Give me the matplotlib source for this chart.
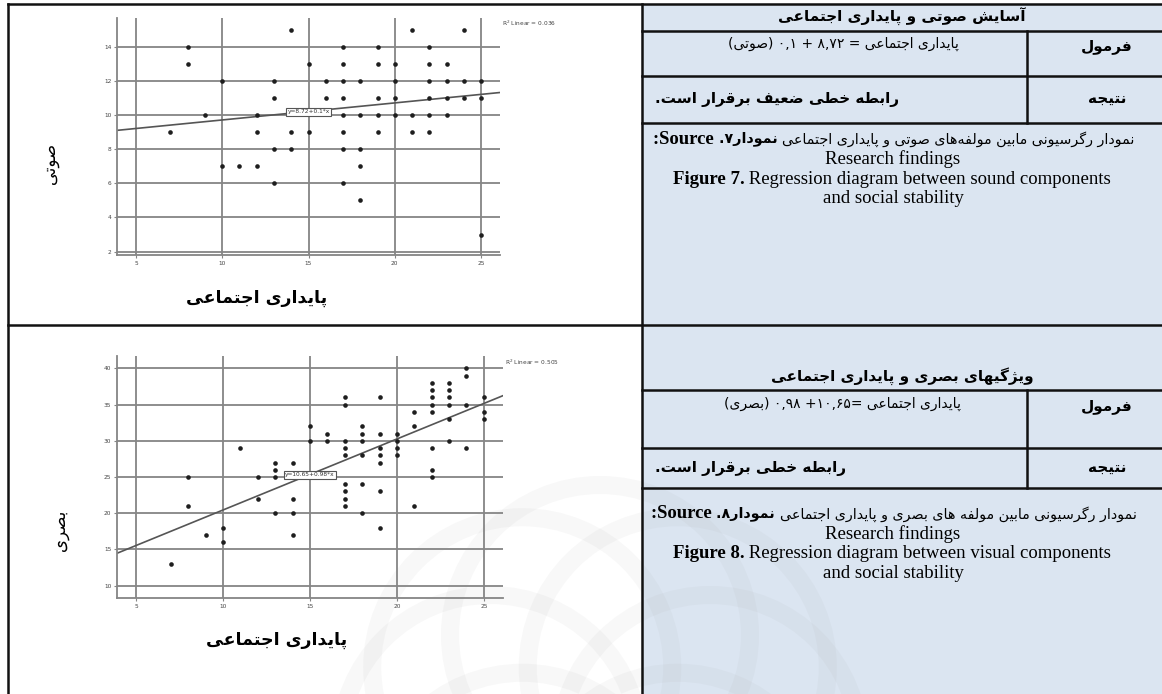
import matplotlib; matplotlib.use('Agg')
import matplotlib.pyplot as plt
from matplotlib.patches import Rectangle, Circle
import numpy as np

# ---------------------------------------------------------------------------
# data
# ---------------------------------------------------------------------------
sound_x = [7, 8, 8, 9, 10, 10, 11, 12, 12, 12, 13, 13, 13, 13, 14, 14, 14, 15, 15,
           16, 16, 17, 17, 17, 17, 17, 17, 17, 17, 18, 18, 18, 18, 18,
           19, 19, 19, 19, 19, 20, 20, 20, 20, 21, 21, 21,
           22, 22, 22, 22, 22, 22, 23, 23, 23, 23, 24, 24, 24, 25, 25, 25]
sound_y = [9, 14, 13, 10, 12, 7, 7, 10, 9, 7, 12, 11, 8, 6, 15, 9, 8, 13, 9,
           12, 11, 14, 13, 12, 11, 10, 9, 8, 6, 12, 10, 8, 7, 5,
           14, 13, 11, 10, 9, 13, 12, 11, 10, 15, 10, 9,
           14, 13, 12, 11, 10, 9, 13, 12, 11, 10, 15, 12, 11, 12, 11, 3]

visual_x = [7, 8, 8, 9, 10, 10, 11, 12, 12, 13, 13, 13, 13, 14, 14, 14, 14, 15, 15,
            16, 16, 17, 17, 17, 17, 17, 17, 17, 17, 17, 18, 18, 18, 18, 18, 18,
            19, 19, 19, 19, 19, 19, 19, 20, 20, 20, 20, 21, 21, 21,
            22, 22, 22, 22, 22, 22, 22, 22, 23, 23, 23, 23, 23, 23,
            24, 24, 24, 24, 25, 25, 25]
visual_y = [13, 25, 21, 17, 18, 16, 29, 25, 22, 27, 26, 25, 20, 27, 22, 20, 17, 32, 30,
            31, 30, 36, 35, 30, 29, 28, 24, 23, 22, 21, 32, 31, 30, 28, 24, 20,
            36, 31, 29, 28, 27, 23, 18, 31, 30, 29, 28, 34, 32, 21,
            38, 37, 36, 35, 34, 29, 26, 25, 38, 37, 36, 35, 33, 30,
            40, 39, 35, 29, 36, 34, 33]

sound_fit = (8.72, 0.1)      # intercept, slope
visual_fit = (10.65, 0.98)
sound_r2 = 'R$^2$ Linear = 0.036'
visual_r2 = 'R$^2$ Linear = 0.505'
sound_eq = 'y=8.72+0.1*x'
visual_eq = 'y=10.65+0.98*x'

x_ticks = [5, 10, 15, 20, 25]
sound_yticks = [2, 4, 6, 8, 10, 12, 14]
visual_yticks = [10, 15, 20, 25, 30, 35, 40]

# ---------------------------------------------------------------------------
# minimal Persian shaping (matplotlib does no contextual shaping / bidi)
# ---------------------------------------------------------------------------
FORMS = {
    'ا': ('\uFE8D', '\uFE8E', None, None), 'آ': ('\uFE81', '\uFE82', None, None),
    'ب': ('\uFE8F', '\uFE90', '\uFE91', '\uFE92'), 'پ': ('\uFB56', '\uFB57', '\uFB58', '\uFB59'),
    'ت': ('\uFE95', '\uFE96', '\uFE97', '\uFE98'), 'ج': ('\uFE9D', '\uFE9E', '\uFE9F', '\uFEA0'),
    'خ': ('\uFEA5', '\uFEA6', '\uFEA7', '\uFEA8'), 'د': ('\uFEA9', '\uFEAA', None, None),
    'ر': ('\uFEAD', '\uFEAE', None, None), 'ز': ('\uFEAF', '\uFEB0', None, None),
    'ژ': ('\uFB8A', '\uFB8B', None, None), 'س': ('\uFEB1', '\uFEB2', '\uFEB3', '\uFEB4'),
    'ش': ('\uFEB5', '\uFEB6', '\uFEB7', '\uFEB8'), 'ص': ('\uFEB9', '\uFEBA', '\uFEBB', '\uFEBC'),
    'ض': ('\uFEBD', '\uFEBE', '\uFEBF', '\uFEC0'), 'ط': ('\uFEC1', '\uFEC2', '\uFEC3', '\uFEC4'),
    'ع': ('\uFEC9', '\uFECA', '\uFECB', '\uFECC'), 'ف': ('\uFED1', '\uFED2', '\uFED3', '\uFED4'),
    'ق': ('\uFED5', '\uFED6', '\uFED7', '\uFED8'), 'ک': ('\uFB8E', '\uFB8F', '\uFB90', '\uFB91'),
    'گ': ('\uFB92', '\uFB93', '\uFB94', '\uFB95'), 'ل': ('\uFEDD', '\uFEDE', '\uFEDF', '\uFEE0'),
    'م': ('\uFEE1', '\uFEE2', '\uFEE3', '\uFEE4'), 'ن': ('\uFEE5', '\uFEE6', '\uFEE7', '\uFEE8'),
    'و': ('\uFEED', '\uFEEE', None, None), 'ه': ('\uFEE9', '\uFEEA', '\uFEEB', '\uFEEC'),
    'ی': ('\uFBFC', '\uFBFD', '\uFBFE', '\uFBFF'),
}


def fa(s):
    """Shape a logical Persian string and return it in visual (LTR) order."""
    out = []
    for i, c in enumerate(s):
        if c not in FORMS:
            if c != '\u200c':
                out.append(c)
            continue
        prev = s[i - 1] if i > 0 else ''
        nxt = s[i + 1] if i + 1 < len(s) else ''
        jp = prev in FORMS and FORMS[prev][2] is not None
        jn = FORMS[c][2] is not None and nxt in FORMS
        iso, fin, ini, med = FORMS[c]
        out.append(med if (jp and jn) else fin if jp else ini if jn else iso)
    return ''.join(reversed(out))


W, H = 1162, 694
fig = plt.figure(figsize=(W / 100, H / 100), dpi=100)
bg = fig.add_axes([0, 0, 1, 1])
bg.set_xlim(0, W)
bg.set_ylim(H, 0)
bg.axis('off')
R = fig.canvas.get_renderer()

FA = 'DejaVu Sans'
SERIF = 'Liberation Serif'


def run(x, y, pieces, ha='center'):
    """Lay out (text, kwargs) pieces left-to-right in pixel coords."""
    ts = [bg.text(0, y, t, va='center', ha='left', zorder=5, **kw) for t, kw in pieces]
    ws = [t.get_window_extent(R).width for t in ts]
    x0 = x - sum(ws) / 2 if ha == 'center' else (x - sum(ws) if ha == 'right' else x)
    for t, w in zip(ts, ws):
        t.set_x(x0)
        x0 += w


# right column shading
bg.add_patch(Rectangle((642, 4), W - 642, H - 4, color='#dbe5f1', zorder=0))

# faint journal watermark (rosette of arcs) near the bottom
for ang in np.arange(0, 360, 45):
    cx = 600 + 110 * np.cos(np.radians(ang))
    cy = 745 + 110 * np.sin(np.radians(ang))
    bg.add_patch(Circle((cx, cy), 150, fill=False, ec='#a0a0a0', lw=13,
                        alpha=0.07, zorder=0.5))

# table rules
lk = dict(color='#111111', lw=1.8, zorder=3)
bg.plot([8, 8], [4, H], **lk)
bg.plot([8, W], [4, 4], **lk)
bg.plot([8, W], [325, 325], **lk)
bg.plot([642, 642], [4, H], **lk)
for yy in (31, 76, 123, 390, 448, 488):
    bg.plot([642, W], [yy, yy], **lk)
bg.plot([1027, 1027], [31, 123], **lk)
bg.plot([1027, 1027], [390, 488], **lk)


# ---------------------------------------------------------------------------
# scatter panels
# ---------------------------------------------------------------------------
def panel(box, xs, ys, fit, yticks, ylim, eq, eq_y):
    l, t, r, b = box
    ax = fig.add_axes([l / W, 1 - b / H, (r - l) / W, (b - t) / H])
    ax.patch.set_alpha(0)
    ax.set_xlim(3.9, 26.1)
    ax.set_ylim(*ylim)
    ax.set_xticks(x_ticks)
    ax.set_yticks(yticks)
    ax.grid(True, color='#858585', lw=1.3)
    ax.set_axisbelow(True)
    for s in ('top', 'right'):
        ax.spines[s].set_visible(False)
    for s in ('left', 'bottom'):
        ax.spines[s].set_color('#858585')
        ax.spines[s].set_linewidth(1.3)
    ax.tick_params(length=2, width=0.8, color='#858585', labelsize=4.2,
                   labelcolor='#444444', pad=2)
    ax.scatter(xs, ys, s=11, color='#1e1e1e', zorder=3, linewidths=0)
    a, k = fit
    xl = list(ax.get_xlim())
    ax.plot(xl, [a + k * v for v in xl], color='#555555', lw=1.2, zorder=2)
    ax.text(15, eq_y, eq, fontsize=4.2, ha='center', va='center', color='#333333',
            zorder=4, bbox=dict(boxstyle='square,pad=0.25', fc='white', ec='#555555', lw=0.8))
    return ax


panel((117, 18, 500, 255), sound_x, sound_y, sound_fit, sound_yticks, (1.8, 15.7),
      sound_eq, 10.2)
panel((117, 356, 503, 598), visual_x, visual_y, visual_fit, visual_yticks, (8.3, 41.7),
      visual_eq, 25.3)

bg.text(502, 23, sound_r2, fontsize=4.2, color='#444444', va='center')
bg.text(505, 362, visual_r2, fontsize=4.2, color='#444444', va='center')

# axis titles
bg.text(50, 163, fa('صوتی'), family=FA, fontsize=12, rotation=90, ha='center', va='center')
bg.text(60, 530, fa('بصری'), family=FA, fontsize=12, rotation=90, ha='center', va='center')
bg.text(257, 298, fa('پایداری اجتماعی'), family=FA, fontsize=12.5, weight='bold',
        ha='center', va='center')
bg.text(277, 640, fa('پایداری اجتماعی'), family=FA, fontsize=12.5, weight='bold',
        ha='center', va='center')

# ---------------------------------------------------------------------------
# right column text
# ---------------------------------------------------------------------------
fb = dict(family=FA, fontsize=11, weight='bold')
fr = dict(family=FA, fontsize=10)
sb = dict(family=SERIF, fontsize=13.5, weight='bold')
sr = dict(family=SERIF, fontsize=13.5)
fcap = dict(family=FA, fontsize=10.3)
fcapb = dict(family=FA, fontsize=10.3, weight='bold')

# top block
bg.text(902, 17, fa('آسایش صوتی و پایداری اجتماعی'), ha='center', va='center', **fb)
bg.text(1107, 46, fa('فرمول'), ha='center', va='center', **fb)
bg.text(843, 44, '(' + fa('صوتی') + ') ۰,۱ + ۸,۷۲ = ' + fa('پایداری اجتماعی'),
        ha='center', va='center', **fr)
bg.text(1107, 99, fa('نتیجه'), ha='center', va='center', **fb)
bg.text(655, 99, '.' + fa('رابطه خطی ضعیف برقرار است'), ha='left', va='center', **fb)
run(894, 139, [(':Source ', sb), ('.۷' + fa('نمودار') + ' ', fcapb),
               (fa('نمودار رگرسیونی مابین مولفه\u200cهای صوتی و پایداری اجتماعی'), fcap)])
bg.text(893, 159, 'Research findings', ha='center', va='center', **sr)
run(892, 179, [('Figure 7.', sb), (' Regression diagram between sound components', sr)])
bg.text(893, 198, 'and social stability', ha='center', va='center', **sr)

# bottom block
bg.text(902, 376, fa('ویژگیهای بصری و پایداری اجتماعی'), ha='center', va='center', **fb)
bg.text(1107, 406, fa('فرمول'), ha='center', va='center', **fb)
bg.text(843, 404, '(' + fa('بصری') + ') ۰,۹۸ +۱۰,۶۵= ' + fa('پایداری اجتماعی'),
        ha='center', va='center', **fr)
bg.text(1107, 468, fa('نتیجه'), ha='center', va='center', **fb)
bg.text(655, 468, '.' + fa('رابطه خطی برقرار است'), ha='left', va='center', **fb)
run(894, 514, [(':Source ', sb), ('.۸' + fa('نمودار') + ' ', fcapb),
               (fa('نمودار رگرسیونی مابین مولفه های بصری و پایداری اجتماعی'), fcap)])
bg.text(893, 534, 'Research findings', ha='center', va='center', **sr)
run(892, 554, [('Figure 8.', sb), (' Regression diagram between visual components', sr)])
bg.text(893, 573, 'and social stability', ha='center', va='center', **sr)

fig.savefig('out.png', dpi=100)
